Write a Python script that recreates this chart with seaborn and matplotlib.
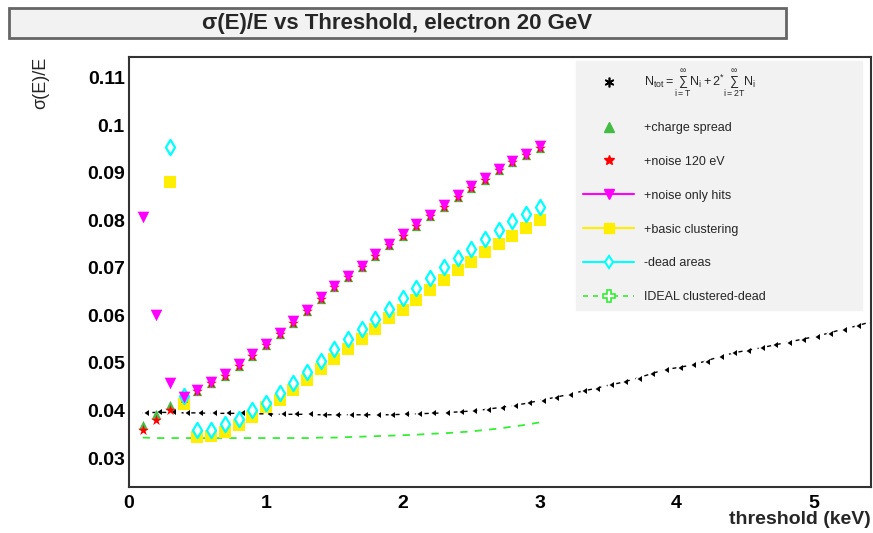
import matplotlib
matplotlib.use("Agg")
import matplotlib.pyplot as plt
import numpy as np
import pandas as pd
import seaborn as sns
from matplotlib.lines import Line2D
from matplotlib.patches import Rectangle
from matplotlib.ticker import MultipleLocator

# thresholds (keV)
thr = [0.1, 0.2, 0.3, 0.4, 0.5, 0.6, 0.7, 0.8, 0.9, 1.0,
       1.1, 1.2, 1.3, 1.4, 1.5, 1.6, 1.7, 1.8, 1.9, 2.0,
       2.1, 2.2, 2.3, 2.4, 2.5, 2.6, 2.7, 2.8, 2.9, 3.0]

# N_tot (black), goes on past 3 keV
thr_ntot = [0.1, 0.2, 0.3, 0.4, 0.5, 0.6, 0.7, 0.8, 0.9, 1.0,
            1.1, 1.2, 1.3, 1.4, 1.5, 1.6, 1.7, 1.8, 1.9, 2.0,
            2.1, 2.2, 2.3, 2.4, 2.5, 2.6, 2.7, 2.8, 2.9, 3.0,
            3.1, 3.2, 3.3, 3.4, 3.5, 3.6, 3.7, 3.8, 3.9, 4.0,
            4.1, 4.2, 4.3, 4.4, 4.5, 4.6, 4.7, 4.8, 4.9, 5.0,
            5.1, 5.2, 5.3, 5.4, 5.5]
ntot = [0.0395, 0.0396, 0.0396, 0.0395, 0.0395, 0.0394, 0.0394, 0.0394, 0.0393, 0.0393,
        0.0392, 0.0392, 0.0392, 0.0391, 0.0391, 0.0391, 0.0391, 0.0391, 0.0391, 0.0392,
        0.0393, 0.0394, 0.0395, 0.0397, 0.0399, 0.0402, 0.0406, 0.0410, 0.0415, 0.0421,
        0.0427, 0.0433, 0.0440, 0.0446, 0.0453, 0.0459, 0.0467, 0.0476, 0.0485, 0.0490,
        0.0495, 0.0503, 0.0512, 0.0520, 0.0526, 0.0531, 0.0537, 0.0543, 0.0549, 0.0555,
        0.0562, 0.0570, 0.0577, 0.0585, 0.0592]

charge_spread = [0.0369, 0.0392, 0.0411, 0.0428, 0.0440, 0.0457, 0.0473, 0.0494, 0.0515, 0.0538,
                 0.0560, 0.0585, 0.0609, 0.0635, 0.0659, 0.0680, 0.0702, 0.0726, 0.0748, 0.0768,
                 0.0789, 0.0809, 0.0829, 0.0850, 0.0869, 0.0886, 0.0906, 0.0922, 0.0937, 0.0953]
noise120 = [0.0360, 0.0381, 0.0402, 0.0427, 0.0440, 0.0457, 0.0473, 0.0494, 0.0515, 0.0538,
            0.0560, 0.0585, 0.0609, 0.0635, 0.0659, 0.0680, 0.0702, 0.0726, 0.0748, 0.0768,
            0.0789, 0.0809, 0.0829, 0.0850, 0.0869, 0.0886, 0.0906, 0.0922, 0.0937, 0.0953]
noise_hits = [0.0807, 0.0600, 0.0457, 0.0429, 0.0443, 0.0460, 0.0476, 0.0497, 0.0518, 0.0541,
              0.0563, 0.0588, 0.0612, 0.0638, 0.0662, 0.0683, 0.0705, 0.0729, 0.0751, 0.0771,
              0.0792, 0.0812, 0.0832, 0.0853, 0.0872, 0.0889, 0.0909, 0.0925, 0.0940, 0.0956]

thr_clu = [0.3, 0.4, 0.5, 0.6, 0.7, 0.8, 0.9, 1.0,
           1.1, 1.2, 1.3, 1.4, 1.5, 1.6, 1.7, 1.8, 1.9, 2.0,
           2.1, 2.2, 2.3, 2.4, 2.5, 2.6, 2.7, 2.8, 2.9, 3.0]
clustering = [0.0880, 0.0413, 0.0345, 0.0346, 0.0355, 0.0369, 0.0387, 0.0407,
              0.0423, 0.0443, 0.0464, 0.0487, 0.0509, 0.0530, 0.0551, 0.0572, 0.0595, 0.0611,
              0.0632, 0.0654, 0.0674, 0.0695, 0.0712, 0.0733, 0.0751, 0.0767, 0.0785, 0.0801]
dead = [0.0955, 0.0430, 0.0359, 0.0360, 0.0371, 0.0383, 0.0401, 0.0415,
        0.0437, 0.0458, 0.0482, 0.0505, 0.0529, 0.0551, 0.0571, 0.0592, 0.0613, 0.0636,
        0.0657, 0.0679, 0.0701, 0.0720, 0.0739, 0.0762, 0.0780, 0.0799, 0.0814, 0.0828]

ideal = [0.0343, 0.0342, 0.0342, 0.0342, 0.0342, 0.0342, 0.0342, 0.0342, 0.0342, 0.0342,
         0.0342, 0.0342, 0.0342, 0.0343, 0.0343, 0.0344, 0.0345, 0.0346, 0.0347, 0.0348,
         0.0349, 0.0351, 0.0352, 0.0354, 0.0356, 0.0359, 0.0362, 0.0366, 0.0370, 0.0375]

labels = [r"$N_{tot}=\sum_{i=T}^{\infty}N_i+2^{*}\sum_{i=2T}^{\infty}N_i$",
          "+charge spread", "+noise 120 eV", "+noise only hits",
          "+basic clustering", "-dead areas", "IDEAL clustered-dead"]

sns.set_style("white")
plt.rcParams["font.family"] = ["Liberation Sans", "DejaVu Sans"]
plt.rcParams["mathtext.fontset"] = "custom"
plt.rcParams["mathtext.rm"] = "Liberation Sans"
plt.rcParams["mathtext.it"] = "Liberation Sans"

fig = plt.figure(figsize=(8.73, 5.33), dpi=100)
W, H = 873, 533
ax = fig.add_axes([129 / W, 1 - 487 / H, (871 - 129) / W, (487 - 57) / H])

df_ntot = pd.DataFrame({"x": thr_ntot, "y": ntot})
df = pd.DataFrame({"x": thr, "cs": charge_spread, "n120": noise120,
                   "nh": noise_hits, "ideal": ideal})
df_clu = pd.DataFrame({"x": thr_clu, "clu": clustering, "dead": dead})

sns.lineplot(data=df_ntot, x="x", y="y", ax=ax, color="black", lw=1.0,
             linestyle=(0, (3, 4)), marker=4, markersize=5.5, mew=1.2, legend=False)
sns.lineplot(data=df, x="x", y="ideal", ax=ax, color="#33ee33", lw=1.3,
             linestyle=(0, (4, 4)), legend=False)
sns.scatterplot(data=df, x="x", y="cs", ax=ax, color="#44bb44", marker="^",
                s=45, linewidth=0, legend=False, zorder=3)
sns.scatterplot(data=df, x="x", y="n120", ax=ax, color="red", marker="*",
                s=65, linewidth=0, legend=False, zorder=4)
sns.scatterplot(data=df, x="x", y="nh", ax=ax, color="magenta", marker="v",
                s=70, linewidth=0, legend=False, zorder=5)
sns.scatterplot(data=df_clu, x="x", y="clu", ax=ax, color="#ffee00", marker="s",
                s=75, linewidth=0, legend=False, zorder=3)
sns.scatterplot(data=df_clu, x="x", y="dead", ax=ax, facecolor="white", edgecolor="cyan",
                marker="d", s=60, linewidth=1.6, legend=False, zorder=4)

ax.set_xlim(0, 5.42)
ax.set_ylim(0.0239, 0.1144)
ax.xaxis.set_major_locator(MultipleLocator(1))
ax.xaxis.set_minor_locator(MultipleLocator(0.2))
ax.yaxis.set_major_locator(MultipleLocator(0.01))
ax.yaxis.set_minor_locator(MultipleLocator(0.002))
ax.yaxis.set_major_formatter(plt.FuncFormatter(lambda v, p: f"{v:g}"))
ax.tick_params(axis="both", which="both", direction="in", top=False, right=False,
               colors="#333333", labelcolor="black", width=1.3)
ax.tick_params(axis="y", which="major", length=17, labelsize=14, pad=3)
ax.tick_params(axis="y", which="minor", length=8.5)
ax.tick_params(axis="x", which="major", length=9, labelsize=14, pad=6)
ax.tick_params(axis="x", which="minor", length=4.5)
for t in ax.get_xticklabels() + ax.get_yticklabels():
    t.set_fontweight("bold")
for sp in ax.spines.values():
    sp.set_color("#333333")
    sp.set_linewidth(1.5)

ax.set_xlabel("threshold (keV)", fontsize=14, fontweight="bold")
ax.xaxis.set_label_coords(1.0, -0.056)
ax.xaxis.label.set_horizontalalignment("right")
ax.set_ylabel("σ(E)/E", fontsize=13)
ax.yaxis.set_label_coords(-0.13, 1.0)
ax.yaxis.label.set_verticalalignment("top")
ax.yaxis.label.set_horizontalalignment("right")

# title box
fig.patches.append(Rectangle((9 / W, 1 - 38 / H), (786 - 9) / W, 30 / H,
                             transform=fig.transFigure, facecolor="#f2f2f2",
                             edgecolor="#666666", lw=2))
fig.text(397 / W, 1 - 23 / H, "σ(E)/E vs Threshold, electron 20 GeV", ha="center", va="center",
         fontsize=16, fontweight="bold")

handles = [
    Line2D([], [], color="black", marker=(6, 2, 0), linestyle="none", markersize=7, mew=1.2),
    Line2D([], [], color="#44bb44", marker="^", linestyle="none", markersize=7),
    Line2D([], [], color="red", marker="*", linestyle="none", markersize=7),
    Line2D([], [], color="magenta", marker="v", lw=1.5, markersize=7),
    Line2D([], [], color="#ffee00", marker="s", lw=1.5, markersize=7),
    Line2D([], [], color="cyan", marker="d", mfc="white", mew=1.5, lw=1.5, markersize=6),
    Line2D([], [], color="#33ee33", marker="P", mfc="white", mew=1.2, lw=1.2,
           linestyle=(0, (3, 3)), markersize=8),
]
leg = ax.legend(handles, labels, loc="upper left", mode="expand",
                bbox_to_anchor=(576 / W, 1 - 61 / H, (862 - 576) / W, 0.0),
                bbox_transform=fig.transFigure,
                frameon=True, fancybox=False, facecolor="#f2f2f2", edgecolor="#f2f2f2",
                handlelength=4.1, handletextpad=0.8, labelspacing=1.75,
                borderpad=0.55, borderaxespad=0, prop={"size": 9})
leg.get_frame().set_alpha(1)

fig.savefig("out.png", dpi=100)
